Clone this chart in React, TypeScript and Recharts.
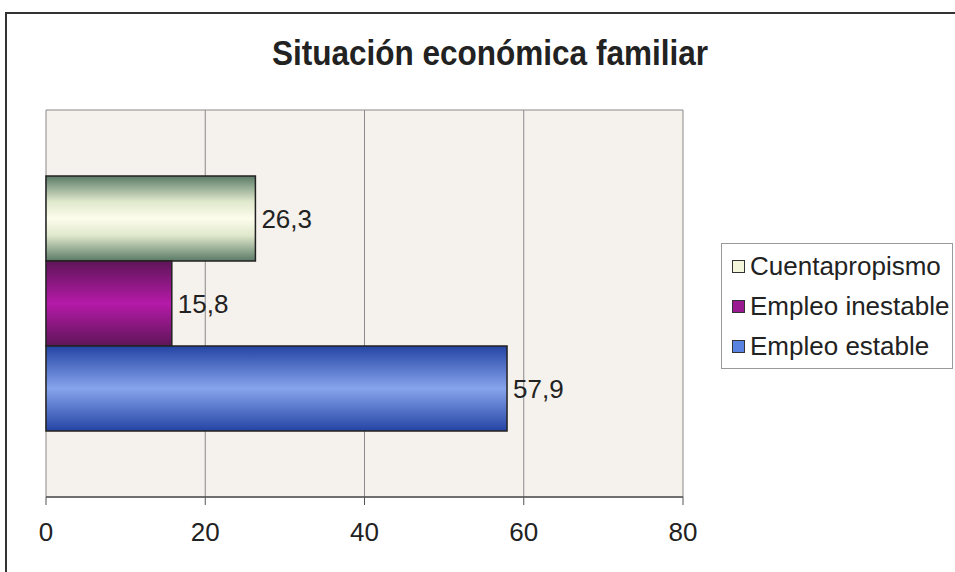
import { BarChart, Bar, XAxis, YAxis, CartesianGrid, LabelList } from 'recharts'

const categories = ['Situación']
const cuentapropismo = [26.3]
const empleoInestable = [15.8]
const empleoEstable = [57.9]
const xTicks = [0, 20, 40, 60, 80]

const series = [
  { key: 'cuenta', name: 'Cuentapropismo', values: cuentapropismo, fill: 'url(#gCuenta)', swatch: '#f4f6dc' },
  { key: 'inestable', name: 'Empleo inestable', values: empleoInestable, fill: 'url(#gInestable)', swatch: '#9a1a92' },
  { key: 'estable', name: 'Empleo estable', values: empleoEstable, fill: 'url(#gEstable)', swatch: '#5a82e0' },
]

const data = categories.map((c, i) => {
  const row: Record<string, string | number> = { name: c }
  series.forEach((s) => (row[s.key] = s.values[i]))
  return row
})

const font = '"Liberation Sans", Arial, sans-serif'
const fmt = (v: any) => String(v).replace('.', ',')

// legend is drawn outside the chart so it doesn't eat into the plot area
function ChartLegend() {
  return (
    <div
      style={{
        position: 'absolute',
        left: 721,
        top: 243,
        border: '1px solid #999',
        background: '#fff',
        padding: '2px 0 2px 10px',
        width: 232,
        fontFamily: font,
        fontSize: 26,
        color: '#222',
        boxSizing: 'border-box',
      }}
    >
      {series.map((s) => (
        <div key={s.key} style={{ display: 'flex', alignItems: 'center', height: 40, whiteSpace: 'nowrap' }}>
          <span
            style={{
              display: 'inline-block',
              width: 11,
              height: 11,
              background: s.swatch,
              border: '1.5px solid #333',
              marginRight: 5,
              flexShrink: 0,
            }}
          />
          {s.name}
        </div>
      ))}
    </div>
  )
}

export default function App() {
  return (
    <div style={{ position: 'absolute', left: 0, top: 0, width: 955, height: 572, background: '#fff', overflow: 'hidden' }}>
      <div
        style={{
          position: 'absolute',
          left: 5,
          top: 12,
          width: 980,
          height: 600,
          borderLeft: '2px solid #333',
          borderTop: '2px solid #333',
        }}
      />
      <span
        style={{
          position: 'absolute',
          left: 490,
          top: 33,
          transform: 'translateX(-50%) scaleX(0.9)',
          whiteSpace: 'nowrap',
          fontFamily: font,
          fontWeight: 'bold',
          fontSize: 35,
          lineHeight: '40px',
          color: '#222',
        }}
      >
        Situación económica familiar
      </span>
      <BarChart
        width={955}
        height={572}
        data={data}
        layout="vertical"
        margin={{ top: 110, right: 272, bottom: 35, left: 46 }}
        barGap={0}
        style={{ position: 'absolute', left: 0, top: 0 }}
      >
        <defs>
          <linearGradient id="gCuenta" x1="0" y1="0" x2="0" y2="1">
            <stop offset="0%" stopColor="#5a7a66" />
            <stop offset="30%" stopColor="#dfe8cc" />
            <stop offset="50%" stopColor="#fdfdec" />
            <stop offset="70%" stopColor="#dfe8cc" />
            <stop offset="100%" stopColor="#5a7a66" />
          </linearGradient>
          <linearGradient id="gInestable" x1="0" y1="0" x2="0" y2="1">
            <stop offset="0%" stopColor="#5e1558" />
            <stop offset="50%" stopColor="#b51aa8" />
            <stop offset="100%" stopColor="#5e1558" />
          </linearGradient>
          <linearGradient id="gEstable" x1="0" y1="0" x2="0" y2="1">
            <stop offset="0%" stopColor="#2444a4" />
            <stop offset="50%" stopColor="#86a4ec" />
            <stop offset="100%" stopColor="#2444a4" />
          </linearGradient>
        </defs>
        <CartesianGrid
          fill="#f5f1ec"
          stroke="#8a8a8a"
          horizontalPoints={[110, 497]}
          horizontal={{ stroke: '#b0b0b0' }}
        />
        <XAxis
          type="number"
          domain={[0, 80]}
          ticks={xTicks}
          interval={0}
          height={40}
          tickSize={8}
          tickMargin={18}
          axisLine={{ stroke: '#555', strokeWidth: 1.5 }}
          tickLine={{ stroke: '#555' }}
          tick={{ fontFamily: font, fontSize: 26, fill: '#222' }}
        />
        <YAxis type="category" dataKey="name" hide width={0} />
        {series.map((s) => (
          <Bar
            key={s.key}
            dataKey={s.key}
            name={s.name}
            fill={s.fill}
            stroke="#222"
            strokeWidth={1.5}
            barSize={85}
            isAnimationActive={false}
          >
            <LabelList
              dataKey={s.key}
              position="right"
              offset={6}
              formatter={fmt}
              style={{ fontFamily: font, fontSize: 26, fill: '#222' }}
            />
          </Bar>
        ))}
      </BarChart>
      <ChartLegend />
    </div>
  )
}
